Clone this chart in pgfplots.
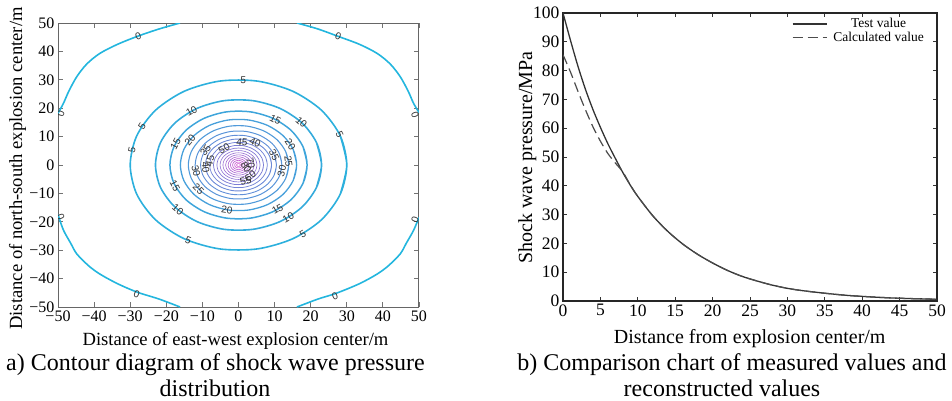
\documentclass[border=0pt]{standalone}
\usepackage{pgfplots}
\pgfplotsset{compat=1.18}
\usepackage{fontspec}
\setmainfont{Liberation Serif}
\newfontfamily\sans{Liberation Sans}
\definecolor{clow}{RGB}{35,182,222}
\definecolor{chigh}{RGB}{215,70,205}
\definecolor{lblc}{RGB}{50,50,50}
\newcommand\ring[3]{%
  \addplot[smooth, data cs=polar, color=chigh!#2!clow, line width=#3pt, mark=none]
  coordinates {(-20,#1) (0,#1) (20,#1) (40,#1) (60,#1) (80,#1) (100,#1) (120,#1) (140,#1) (160,#1) (180,#1) (200,#1) (220,#1) (240,#1) (260,#1) (280,#1) (300,#1) (320,#1) (340,#1) (360,#1) (380,#1)};}
\newcommand\clab[4]{\node[font=\sans\fontsize{10}{10}\selectfont, text=lblc, inner sep=0pt, rotate=#3] at (axis cs:#1,#2) {#4};}
\begin{document}
\begin{tikzpicture}
\useasboundingbox (0pt,0pt) rectangle (952pt,-401pt);
% ---------------- left panel ----------------
\begin{axis}[
  scale only axis, width=361pt, height=284pt,
  at={(58pt,-307pt)}, anchor=south west,
  xmin=-50, xmax=50, ymin=-50, ymax=50,
  xtick={-50,-40,...,50}, ytick={-50,-40,...,50},
  xticklabels={−50,−40,−30,−20,−10,0,10,20,30,40,50},
  yticklabels={−50,−40,−30,−20,−10,0,10,20,30,40,50},
  tick pos=both, tick align=inside, major tick length=5pt,
  tick style={color=black!55, line width=0.8pt},
  axis line style={color=black!60, line width=1pt},
  ticklabel style={font=\fontsize{16}{16}\selectfont},
  xlabel={Distance of east-west explosion center/m},
  ylabel={Distance of north-south explosion center/m},
  xlabel style={at={(axis description cs:0.4917,-0.1338)}, anchor=base, font=\fontsize{18.6}{19}\selectfont},
  ylabel style={at={(axis description cs:-0.0997,0.4877)}, anchor=base, rotate=0, font=\fontsize{18.6}{19}\selectfont},
  clip=true,
]
% zero contour (corner arcs)
\addplot[smooth, color=clow, line width=1.6pt] coordinates {(-16.2,50) (-22,47.9) (-27.8,45.4) (-33.5,42.5) (-38.4,39.3) (-42,35.6) (-44.8,31.1) (-47,26) (-48.5,21.7) (-50,18.2)};
\addplot[smooth, color=clow, line width=1.6pt] coordinates {(16.2,50) (22,47.9) (27.6,45.3) (33.5,42.5) (38.4,39.3) (42,35.6) (44.8,31.1) (47,26) (48.5,21.7) (50,18.5)};
\addplot[smooth, color=clow, line width=1.6pt] coordinates {(-50,-17.5) (-48.5,-22.9) (-46.5,-27.5) (-44.8,-31.3) (-41.5,-35.5) (-38.4,-38.4) (-33.5,-41.8) (-28,-44.8) (-22,-47.2) (-16.2,-50)};
\addplot[smooth, color=clow, line width=1.6pt] coordinates {(50,-18.5) (48.5,-23) (46.5,-27.5) (44.8,-31.3) (41.5,-35.5) (38.4,-38.4) (33.5,-41.8) (27,-45.2) (22,-47.2) (16.2,-50)};
% closed contours: radius, level (%), width
\ring{30.0}{5}{1.6}
\ring{23.0}{10}{1.6}
\ring{19.0}{15}{1.5}
\ring{16.1}{20}{1.3}
\ring{13.9}{25}{1.1}
\ring{12.0}{30}{1.0}
\ring{10.5}{35}{0.9}
\ring{9.16}{40}{0.9}
\ring{7.99}{45}{0.75}
\ring{6.93}{50}{0.75}
\ring{5.98}{55}{0.7}
\ring{5.11}{60}{0.6}
\ring{4.31}{65}{0.6}
\ring{3.57}{70}{0.6}
\ring{2.88}{75}{0.6}
\ring{2.23}{80}{0.6}
\ring{1.63}{85}{0.6}
\ring{1.05}{90}{0.6}
\ring{0.51}{95}{0.6}
% contour labels
\clab{-27.8}{45.4}{21}{0}
\clab{27.6}{45.2}{-21}{0}
\clab{-49.2}{18.2}{70}{0}
\clab{48.9}{17.6}{-70}{0}
\clab{-49.2}{-18.2}{-70}{0}
\clab{48.9}{-19.4}{70}{0}
\clab{-28.2}{-45.4}{-21}{0}
\clab{26.7}{-46.1}{21}{0}
\clab{1.3}{30}{-2}{5}
\clab{-26.7}{13.6}{57}{5}
\clab{-29.5}{5.4}{77}{5}
\clab{28}{10.75}{-64}{5}
\clab{-13.9}{-26.6}{-22}{5}
\clab{17.8}{-24.2}{30}{5}
\clab{-13.0}{19.0}{28}{10}
\clab{17.4}{15.0}{-42}{10}
\clab{-16.8}{-15.8}{-40}{10}
\clab{13.8}{-18.4}{30}{10}
\clab{10.2}{16.0}{-27}{15}
\clab{-17.4}{7.5}{61}{15}
\clab{-17.6}{-7.2}{-62}{15}
\clab{10.8}{-15.6}{29}{15}
\clab{-13.45}{8.84}{50}{20}
\clab{14.36}{7.28}{-57}{20}
\clab{-3.24}{-15.77}{-9}{20}
\clab{13.84}{1.28}{-83}{25}
\clab{-11.07}{-8.4}{-46}{25}
\clab{12}{-2.1}{76}{30}
\clab{-11.8}{-2.1}{-77}{30}
\clab{9.87}{3.59}{-65}{35}
\clab{-9.1}{5.25}{54}{35}
\clab{-9.1}{-0.8}{-84}{40}
\clab{4.58}{7.93}{-24}{40}
\clab{-7.9}{1.4}{77}{45}
\clab{0.97}{7.94}{-5}{45}
\clab{-3.97}{5.68}{29}{50}
\clab{2.0}{-5.6}{18}{55}
\clab{3.3}{-3.8}{40}{60}
\clab{3.4}{0.6}{-80}{70}
\clab{2.1}{-0.8}{-60}{80}
\end{axis}
% ---------------- right panel ----------------
\begin{axis}[
  scale only axis, width=374pt, height=288pt,
  at={(563pt,-301pt)}, anchor=south west,
  xmin=0, xmax=50, ymin=0, ymax=100,
  xtick={0,5,...,50}, ytick={0,10,...,100},
  tick pos=both, tick align=inside, major tick length=4pt,
  tick style={color=black!80, line width=0.8pt},
  axis line style={color=black!85, line width=1.2pt},
  /pgf/number format/assume math mode=true,
  ticklabel style={font=\fontsize{17.5}{17.5}\selectfont},
  xlabel={Distance from explosion center/m},
  ylabel={Shock wave pressure/MPa},
  xlabel style={at={(axis description cs:0.4992,-0.1469)}, anchor=base, font=\fontsize{20}{20}\selectfont},
  ylabel style={at={(axis description cs:-0.0829,0.498)}, anchor=base, rotate=0, font=\fontsize{20}{20}\selectfont},
  legend style={draw=none, fill=none, at={(axis description cs:0.612,0.985)}, anchor=north west,
    font=\fontsize{13.5}{14}\selectfont, inner sep=0pt, row sep=1pt,
    nodes={inner sep=1pt},
    /tikz/every odd column/.append style={column sep=5pt}},
  legend cell align=center,
  legend image code/.code={\draw[#1] (0pt,0pt) -- (34pt,0pt);},
]
\addplot[smooth, color=black!80, line width=1.3pt] coordinates {
(0,100) (1,90.5) (2,81.5) (3,73.5) (4,66.5) (5,60.3) (6,54.6) (7,49.5) (8,44.6) (9,40.2) (10,36.3) (12,29.6) (14,24.2) (16,19.8) (18,16.2) (20,13.2) (22,10.6) (24,8.5) (26,6.9) (28,5.5) (30,4.4) (32,3.6) (35,2.7) (38,1.95) (41,1.45) (44,1.05) (47,0.8) (50,0.6)};
\addlegendentry{Test value}
\addplot[smooth, color=black!70, line width=1.2pt, dash pattern=on 10pt off 5pt] coordinates {
(0,85.5) (1,79.5) (2,72.8) (3,66.4) (4,60.5) (5,55.5) (6,51.2) (7,47.9) (8,44.8) (9,40.3) (10,36.3) (12,29.6) (14,24.2) (16,19.8) (18,16.2) (20,13.2) (22,10.6) (24,8.5) (26,6.9) (28,5.5) (30,4.4) (32,3.6) (35,2.7) (38,1.95) (41,1.45) (44,1.05) (47,0.8) (50,0.6)};
\addlegendentry{Calculated value}
\end{axis}
% ---------------- captions ----------------
\node[anchor=base, font=\fontsize{24}{24}\selectfont, inner sep=0pt] at (215.5pt,-370pt) {a) Contour diagram of shock wave pressure};
\node[anchor=base, font=\fontsize{24}{24}\selectfont, inner sep=0pt] at (215pt,-396pt) {distribution};
\node[anchor=base, font=\fontsize{24}{24}\selectfont, inner sep=0pt] at (732pt,-370pt) {b) Comparison chart of measured values and};
\node[anchor=base, font=\fontsize{24}{24}\selectfont, inner sep=0pt] at (722pt,-396pt) {reconstructed values};
\end{tikzpicture}
\end{document}
